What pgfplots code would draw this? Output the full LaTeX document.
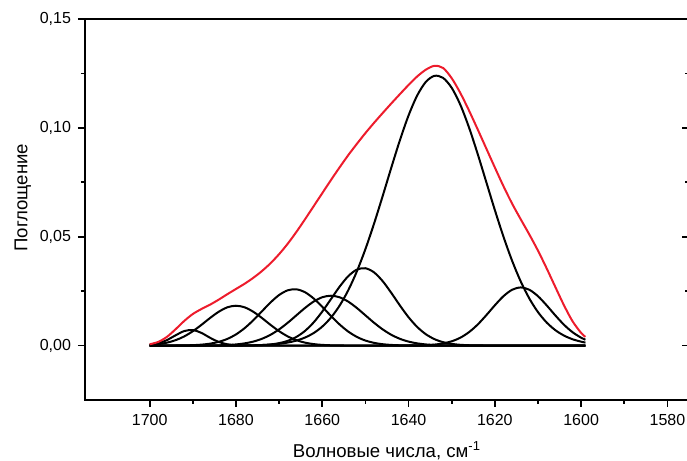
\documentclass[border=0pt]{standalone}
\usepackage{pgfplots}
\pgfplotsset{compat=1.18}
\usepackage{fontspec}
\setmainfont{Liberation Sans}
\definecolor{sumred}{RGB}{237,28,44}
\begin{document}
\begin{tikzpicture}
\useasboundingbox (-42.5pt,-30.5pt) rectangle (301pt,200pt);
\begin{axis}[at={(0pt,0pt)}, anchor=south west, scale only axis,
  width=302pt, height=190.5pt,
  x dir=reverse, xmin=1575, xmax=1715, ymin=-0.025, ymax=0.15,
  xtick={1580,1600,...,1700}, minor x tick num=1,
  ytick={0,0.05,0.1,0.15}, minor y tick num=1,
  xtick pos=left, ytick pos=left, tick align=outside,
  major tick length=3.5pt, minor tick length=2pt,
  scaled y ticks=false,
  axis line style={line width=1pt},
  every tick/.style={black, line width=0.9pt},
  /pgf/number format/assume math mode=true,
  xticklabel style={/pgf/number format/.cd, fixed, precision=0, 1000 sep={}},
  yticklabel style={/pgf/number format/.cd, fixed, fixed zerofill, precision=2, use comma},
  tick label style={font=\fontsize{8}{9}\selectfont},
  label style={font=\fontsize{9.3}{11}\selectfont},
  xlabel={Волновые числа, см\textsuperscript{-1}},
  ylabel={Поглощение},
  xlabel style={at={(axis description cs:0.5,-0.152)}, anchor=base},
  ylabel style={at={(axis description cs:-0.103,0.531)}, anchor=center},
  every axis plot/.append style={line width=1pt, smooth},
]
\addplot[black] coordinates {(1700,0.00032)(1698,0.00103)(1696,0.00253)(1694,0.00471)(1692,0.00666)(1690,0.00714)(1688,0.00580)(1686,0.00357)(1684,0.00167)(1682,0.00059)(1680,0.00016)(1678,0.00003)(1676,0)(1599,0)};
\addplot[black] coordinates {(1700,0.00031)(1698,0.00067)(1696,0.00134)(1694,0.00248)(1692,0.00421)(1690,0.00660)(1688,0.00953)(1686,0.01268)(1684,0.01554)(1682,0.01757)(1680,0.0183)(1678,0.01757)(1676,0.01554)(1674,0.01268)(1672,0.00953)(1670,0.00660)(1668,0.00421)(1666,0.00248)(1664,0.00134)(1662,0.00067)(1660,0.00031)(1658,0.00013)(1656,0.00005)(1654,0.00002)(1652,0)(1599,0)};
\addplot[black] coordinates {(1700,0)(1698,0)(1696,0.00001)(1694,0.00003)(1692,0.00008)(1690,0.00019)(1688,0.00043)(1686,0.00088)(1684,0.00170)(1682,0.00306)(1680,0.00513)(1678,0.00800)(1676,0.01161)(1674,0.01571)(1672,0.01979)(1670,0.02323)(1668,0.02539)(1666,0.02584)(1664,0.02450)(1662,0.02163)(1660,0.01779)(1658,0.01363)(1656,0.00972)(1654,0.00646)(1652,0.00400)(1650,0.00230)(1648,0.00124)(1646,0.00062)(1644,0.00029)(1642,0.00012)(1640,0.00005)(1638,0.00002)(1636,0)(1599,0)};
\addplot[black] coordinates {(1700,0)(1690,0.00001)(1688,0.00002)(1686,0.00005)(1684,0.00012)(1682,0.00025)(1680,0.00052)(1678,0.00101)(1676,0.00182)(1674,0.00310)(1672,0.00495)(1670,0.00744)(1668,0.01048)(1666,0.01389)(1664,0.01728)(1662,0.02021)(1660,0.02219)(1658,0.0229)(1656,0.02219)(1654,0.02021)(1652,0.01728)(1650,0.01389)(1648,0.01048)(1646,0.00744)(1644,0.00495)(1642,0.00310)(1640,0.00182)(1638,0.00101)(1636,0.00052)(1634,0.00025)(1632,0.00012)(1630,0.00005)(1628,0.00002)(1626,0.00001)(1616,0)(1599,0)};
\addplot[black] coordinates {(1700,0)(1682,0)(1680,0.00001)(1678,0.00004)(1676,0.00009)(1674,0.00023)(1672,0.00052)(1670,0.00111)(1668,0.00217)(1666,0.00397)(1664,0.00674)(1662,0.01064)(1660,0.01562)(1658,0.02130)(1656,0.02701)(1654,0.03183)(1652,0.03488)(1650,0.03552)(1648,0.03362)(1646,0.02959)(1644,0.02420)(1642,0.01841)(1640,0.01301)(1638,0.00855)(1636,0.00522)(1634,0.00296)(1632,0.00156)(1630,0.00077)(1628,0.00035)(1626,0.00015)(1624,0.00006)(1622,0.00002)(1620,0)(1599,0)};
\addplot[black] coordinates {(1700,0)(1684,0.00001)(1682,0.00002)(1680,0.00003)(1678,0.00007)(1676,0.00013)(1674,0.00025)(1672,0.00046)(1670,0.00080)(1668,0.00138)(1666,0.00229)(1664,0.00368)(1662,0.00575)(1660,0.00872)(1658,0.01282)(1656,0.01829)(1654,0.02532)(1652,0.03400)(1650,0.04431)(1648,0.05600)(1646,0.06868)(1644,0.08173)(1642,0.09436)(1640,0.10570)(1638,0.11486)(1636,0.12110)(1634,0.12389)(1632,0.12295)(1630,0.11838)(1628,0.11060)(1626,0.10024)(1624,0.08815)(1622,0.07521)(1620,0.06226)(1618,0.05000)(1616,0.03896)(1614,0.02945)(1612,0.02160)(1610,0.01537)(1608,0.01061)(1606,0.00711)(1604,0.00462)(1602,0.00291)(1600,0.00178)(1599,0.00138)};
\addplot[black] coordinates {(1700,0)(1642,0)(1640,0.00003)(1638,0.00007)(1636,0.00019)(1634,0.00045)(1632,0.00098)(1630,0.00196)(1628,0.00361)(1626,0.00615)(1624,0.00962)(1622,0.01390)(1620,0.01849)(1618,0.02268)(1616,0.02563)(1614,0.0267)(1612,0.02563)(1610,0.02268)(1608,0.01849)(1606,0.01390)(1604,0.00962)(1602,0.00615)(1600,0.00361)(1599,0.00269)};
\addplot[sumred] coordinates {(1700,0.0006)(1698,0.0017)(1696,0.0040)(1694,0.0075)(1692,0.0113)(1690,0.0145)(1688,0.0168)(1686,0.0188)(1684,0.0211)(1682,0.0236)(1680,0.0260)(1678,0.0284)(1676,0.0311)(1674,0.0342)(1672,0.0378)(1670,0.0420)(1668,0.0468)(1666,0.0522)(1664,0.0580)(1662,0.0640)(1660,0.0700)(1658,0.0760)(1656,0.0818)(1654,0.0874)(1652,0.0926)(1650,0.0976)(1648,0.1023)(1646,0.1068)(1644,0.1112)(1642,0.1155)(1640,0.1197)(1638,0.1236)(1636,0.1267)(1634,0.1285)(1632,0.1275)(1630,0.1228)(1628,0.1160)(1626,0.1080)(1624,0.0994)(1622,0.0906)(1620,0.0818)(1618,0.0732)(1616,0.0652)(1614,0.0580)(1612,0.0510)(1610,0.0436)(1608,0.0355)(1606,0.0270)(1604,0.0186)(1602,0.0112)(1600,0.0058)(1599,0.0040)};
\end{axis}
\begin{axis}[at={(0pt,0pt)}, anchor=south west, scale only axis,
  width=302pt, height=190.5pt,
  xmin=1575, xmax=1715, ymin=-0.025, ymax=0.15,
  axis y line*=right, axis x line=none,
  ytick={0,0.05,0.1,0.15}, minor y tick num=1, yticklabels={},
  tick align=inside, major tick length=3.5pt, minor tick length=2pt,
  axis line style={line width=1pt},
  every tick/.style={black, line width=0.9pt},
]
\end{axis}
\end{tikzpicture}
\end{document}
